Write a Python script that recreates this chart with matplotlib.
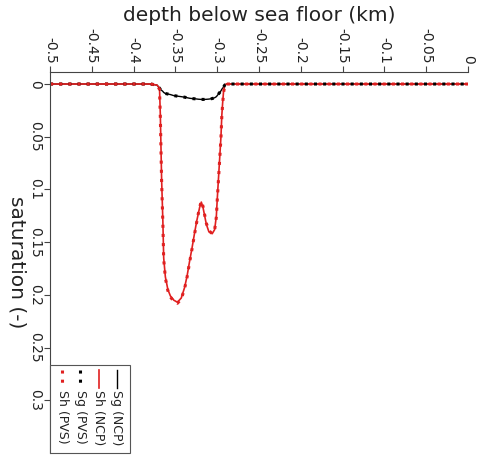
import matplotlib.pyplot as plt
from matplotlib.lines import Line2D
from matplotlib.patches import Rectangle

# profiles along depth (km), hydrate (Sh) and gas (Sg) saturation
depth = [-0.5, -0.38, -0.372, -0.369, -0.368, -0.3665, -0.365, -0.364, -0.362, -0.359,
         -0.356, -0.352, -0.3476, -0.343, -0.339, -0.336, -0.333, -0.330, -0.327,
         -0.3245, -0.3226, -0.321, -0.319, -0.317, -0.3155, -0.313, -0.310, -0.306,
         -0.303, -0.301, -0.300, -0.2985, -0.297, -0.2955, -0.2945, -0.2935, -0.2925,
         -0.291, -0.289, 0.0]
sh_ncp = [0, 0, 0.001, 0.004, 0.03, 0.09, 0.13, 0.165, 0.183, 0.195,
          0.201, 0.205, 0.207, 0.203, 0.193, 0.182, 0.168, 0.155, 0.141,
          0.130, 0.123, 0.117, 0.112, 0.117, 0.123, 0.133, 0.140, 0.142,
          0.138, 0.125, 0.110, 0.090, 0.070, 0.050, 0.030, 0.018, 0.008,
          0.001, 0, 0]
sh_pvs = [0, 0, 0.001, 0.005, 0.032, 0.092, 0.132, 0.166, 0.184, 0.196,
          0.202, 0.206, 0.208, 0.204, 0.194, 0.183, 0.169, 0.156, 0.142,
          0.131, 0.123, 0.117, 0.111, 0.116, 0.122, 0.132, 0.139, 0.142,
          0.138, 0.126, 0.111, 0.091, 0.071, 0.051, 0.031, 0.019, 0.009,
          0.001, 0, 0]
sg_ncp = [0, 0, 0.001, 0.004, 0.005, 0.006, 0.007, 0.008, 0.009, 0.0095,
          0.010, 0.011, 0.0115, 0.012, 0.0125, 0.013, 0.0135, 0.0138, 0.014,
          0.0142, 0.0144, 0.0145, 0.0146, 0.0146, 0.0146, 0.0145, 0.0143, 0.0138,
          0.013, 0.012, 0.011, 0.0095, 0.008, 0.0065, 0.005, 0.004, 0.003,
          0.001, 0, 0]
sg_pvs = sg_ncp

xticks = [-0.5, -0.45, -0.4, -0.35, -0.3, -0.25, -0.2, -0.15, -0.1, -0.05, 0]
xlabels = ['-0.5', '-0.45', '-0.4', '-0.35', '-0.3', '-0.25', '-0.2', '-0.15', '-0.1', '-0.05', '0']
yticks = [0, 0.05, 0.1, 0.15, 0.2, 0.25, 0.3]
ylabels = ['0', '0.05', '0.1', '0.15', '0.2', '0.25', '0.3']

W, H = 482, 455
fig = plt.figure(figsize=(W / 100, H / 100), dpi=100)
ax = fig.add_axes([50 / W, 1 - 453 / H, 418 / W, 381 / H])

ax.plot(depth, sg_ncp, color='black', lw=1.0)
ax.plot(depth, sh_ncp, color='#e02020', lw=1.2)
ax.plot(depth, sg_pvs, color='black', lw=2.2, ls=(0, (1, 2)))
ax.plot(depth, sh_pvs, color='#e02020', lw=2.2, ls=(0, (1, 2)))

ax.set_xlim(-0.5, 0)
ax.set_ylim(0.35, -0.0114)
ax.xaxis.tick_top()
ax.xaxis.set_label_position('top')
ax.set_xticks(xticks)
ax.set_xticklabels(xlabels, rotation=-90, fontsize=10, color='#222222')
ax.set_yticks(yticks)
ax.set_yticklabels(ylabels, rotation=-90, fontsize=10, color='#222222', va='center')
ax.tick_params(direction='out', length=4, width=0.8, color='#444444', pad=2)
ax.set_xlabel('depth below sea floor (km)', fontsize=14.5, color='#222222', labelpad=5)
ax.set_ylabel('saturation (-)', fontsize=14.5, color='#222222', rotation=-90,
              va='center', labelpad=8)
for s in ['right', 'bottom']:
    ax.spines[s].set_visible(False)
for s in ['top', 'left']:
    ax.spines[s].set_color('#444444')
    ax.spines[s].set_linewidth(0.8)

# legend drawn sideways, in figure pixels
def fx(px):
    return px / W

def fy(py):
    return 1 - py / H

fig.patches.append(Rectangle((fx(50), fy(453)), fx(130) - fx(50), fy(365) - fy(453),
                             transform=fig.transFigure, facecolor='white',
                             edgecolor='#555555', lw=0.8, zorder=5))
entries = [('Sg (NCP)', 'black', '-', 1.0, 117),
           ('Sh (NCP)', '#e02020', '-', 1.2, 99),
           ('Sg (PVS)', 'black', (0, (1, 2)), 2.2, 80),
           ('Sh (PVS)', '#e02020', (0, (1, 2)), 2.2, 62)]
for name, col, ls, lw, px in entries:
    fig.lines.append(Line2D([fx(px), fx(px)], [fy(370), fy(388)], transform=fig.transFigure,
                            color=col, ls=ls, lw=lw, zorder=6))
    fig.text(fx(px), fy(390), name, rotation=-90, ha='center', va='top',
             fontsize=9, color='#222222', zorder=6)

fig.savefig('out.png', dpi=100)
